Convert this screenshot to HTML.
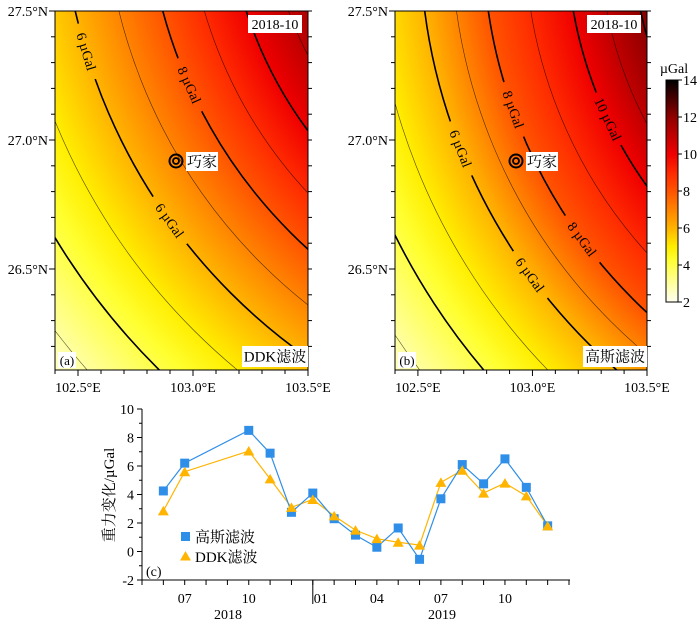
<!DOCTYPE html>
<html><head><meta charset="utf-8">
<style>
html,body{margin:0;background:#fff;overflow:hidden;width:700px;height:624px;}
#wrap{position:relative;width:700px;height:624px;overflow:hidden;font-family:"Liberation Serif","Noto Serif CJK SC",serif;}
canvas{position:absolute;}
svg{position:absolute;left:0;top:0;overflow:hidden;}
</style></head>
<body>
<div id="wrap">
<canvas id="cva" width="253" height="359" style="left:55px;top:11px"></canvas>
<canvas id="cvb" width="252" height="359" style="left:395px;top:11px"></canvas>
<canvas id="cbar" width="12" height="222" style="left:666px;top:80px"></canvas>
<svg id="svg" width="700" height="624" xmlns="http://www.w3.org/2000/svg"></svg>
</div>
<script>
// ---- map data ----
const cmapValues = [2, 3, 4.3, 5, 6, 7, 8, 9, 10, 12, 14];
const cmapColors = ["#fffff2","#ffffa0","#ffff30","#ffee00","#ffb400","#ff8400","#ff5400","#ff2a00","#f00000","#900000","#000000"];
const mapARadii  = [300, 375, 415, 495, 580, 685, 790];
const mapAValues = [12.6, 11, 10, 8, 6, 4, 2];
const mapBRadii  = [300, 362, 428, 512, 575, 670, 770];
const mapBValues = [13.8, 12, 10, 8, 6, 4, 2];
const contourLevels = [2,3,4,5,6,7,8,9,10,11,12,13,14];
const mapALabels = [[6,163.1],[6,144.4],[8,155.9]];
const mapBLabels = [[8,160.3],[10,154.8],[6,158.4],[8,143.8],[6,144.0]];
const lonTicks = [102.5, 103.0, 103.5];
const latTicks = [26.5, 27.0, 27.5];
const cbarTicks = [2,4,6,8,10,12,14];
// ---- chart data ----
const months = ["2018-06","2018-07","2018-10","2018-11","2018-12","2019-01","2019-02","2019-03","2019-04","2019-05","2019-06","2019-07","2019-08","2019-09","2019-10","2019-11","2019-12"];
const gaussValues = [4.25,6.2,8.5,6.9,2.75,4.1,2.3,1.15,0.3,1.65,-0.55,3.7,6.1,4.75,6.5,4.5,1.8];
const ddkValues = [2.85,5.6,7.05,5.1,3.1,3.65,2.5,1.5,0.9,0.65,0.45,4.85,5.7,4.1,4.8,3.9,1.8];
const yTicks = [-2,0,2,4,6,8,10];
const monthTickLabels = [["07","2018-07"],["10","2018-10"],["01","2019-01"],["04","2019-04"],["07","2019-07"],["10","2019-10"]];

const NS="http://www.w3.org/2000/svg";
const svg=document.getElementById('svg');
function mk(tag,attrs,parent){const e=document.createElementNS(NS,tag);for(const k in attrs)e.setAttribute(k,attrs[k]);(parent||svg).appendChild(e);return e;}
function interp(x,xs,ys){
  const n=xs.length;const inc=xs[n-1]>xs[0];
  for(let i=0;i<n-1;i++){const a=xs[i],b=xs[i+1];
    if((inc&&x>=a&&x<=b)||(!inc&&x<=a&&x>=b)){return ys[i]+(ys[i+1]-ys[i])*(x-a)/(b-a);}}
  if((inc&&x<xs[0])||(!inc&&x>xs[0])){return ys[0]+(ys[1]-ys[0])*(x-xs[0])/(xs[1]-xs[0]);}
  return ys[n-2]+(ys[n-1]-ys[n-2])*(x-xs[n-2])/(xs[n-1]-xs[n-2]);
}
function hex(c){return [parseInt(c.substr(1,2),16),parseInt(c.substr(3,2),16),parseInt(c.substr(5,2),16)];}
const cmapRGB=cmapColors.map(hex);
function colorFor(v){v=Math.max(2,Math.min(14,v));
  for(let i=0;i<cmapValues.length-1;i++){if(v<=cmapValues[i+1]){const t=(v-cmapValues[i])/(cmapValues[i+1]-cmapValues[i]);
    const a=cmapRGB[i],b=cmapRGB[i+1];return [a[0]+(b[0]-a[0])*t,a[1]+(b[1]-a[1])*t,a[2]+(b[2]-a[2])*t];}}
  return cmapRGB[cmapRGB.length-1];}

function drawField(id,w,h,cx,cy,radii,vals){
  const ctx=document.getElementById(id).getContext('2d');const img=ctx.createImageData(w,h);
  for(let y=0;y<h;y++)for(let x=0;x<w;x++){const r=Math.hypot(x+0.5-cx,y+0.5-cy);const c=colorFor(interp(r,radii,vals));
    const k=(y*w+x)*4;img.data[k]=c[0];img.data[k+1]=c[1];img.data[k+2]=c[2];img.data[k+3]=255;}
  ctx.putImageData(img,0,0);}

(function(){const ctx=document.getElementById('cbar').getContext('2d');
  for(let y=0;y<222;y++){const v=14-12*(y+0.5)/222;const c=colorFor(v);ctx.fillStyle=`rgb(${c[0]|0},${c[1]|0},${c[2]|0})`;ctx.fillRect(0,y,12,1);}})();

function drawMap(key,x0,y0,w,h,cx,cy,radii,vals,labels,title,filt,tag){
  drawField('cv'+key,w,h,cx,cy,radii,vals);
  const g=mk('g',{});
  
  
  const defs=mk('defs',{},g);
  const cp=mk('clipPath',{id:'clip'+key},defs);mk('rect',{x:x0,y:y0,width:w,height:h},cp);
  const mask=mk('mask',{id:'mask'+key,maskUnits:'userSpaceOnUse',x:0,y:0,width:700,height:624},defs);
  mk('rect',{x:0,y:0,width:700,height:624,fill:'#fff'},mask);
  const CX=x0+cx,CY=y0+cy;
  const lg=mk('g',{'clip-path':`url(#clip${key})`},g);
  labels.forEach(([lev,ang])=>{const R=interp(lev,vals,radii);const th=ang*Math.PI/180;
    const px=CX+R*Math.cos(th),py=CY+R*Math.sin(th),rot=ang-90;
    mk('rect',{x:px-29,y:py-8,width:58,height:16,fill:'#000',transform:`rotate(${rot} ${px} ${py})`},mask);
    const t=mk('text',{x:px,y:py+4.5,'text-anchor':'middle','font-size':14,fill:'#000',transform:`rotate(${rot} ${px} ${py})`},lg);
    t.textContent=lev+' µGal';
    
    
  });
  const cg=mk('g',{'clip-path':`url(#clip${key})`,mask:`url(#mask${key})`},g);
  
  
  contourLevels.forEach(lev=>{if(lev>Math.max(...vals)||lev<Math.min(...vals))return;const R=interp(lev,vals,radii);
    const c=mk('circle',{cx:CX,cy:CY,r:R,fill:'none',stroke:'#000','stroke-width':lev%2===0?1.6:0.6,'stroke-opacity':lev%2===0?1:0.7},cg);
    
    });
  g.appendChild(lg);
  mk('rect',{x:x0,y:y0,width:w,height:h,fill:'none',stroke:'#000','stroke-width':1},g);
  const lonX=l=>x0+(l-102.4)*w/1.1, latY=la=>y0+(27.5-la)*258;
  for(let i=0;i<=11;i++){const l=102.4+i*0.1;const x=lonX(l);const maj=lonTicks.some(t=>Math.abs(t-l)<1e-6);
    mk('line',{x1:x,y1:y0+h,x2:x,y2:y0+h+(maj?6:4),stroke:'#000'},g);}
  for(let i=0;i<=14;i++){const la=27.5-i*0.1;const y=latY(la);if(y>y0+h+0.5)break;const maj=latTicks.some(t=>Math.abs(t-la)<1e-6);
    mk('line',{x1:x0,y1:y,x2:x0-(maj?6:4),y2:y,stroke:'#000'},g);mk('line',{x1:x0+w,y1:y,x2:x0+w+4,y2:y,stroke:'#000'},g);}
  lonTicks.forEach(l=>{const t=mk('text',{x:lonX(l),y:y0+h+22,'text-anchor':'middle','font-size':14},g);t.textContent=l.toFixed(1)+'°E';
    });
  latTicks.forEach(la=>{const t=mk('text',{x:x0-7,y:latY(la)+5,'text-anchor':'end','font-size':14},g);t.textContent=la.toFixed(1)+'°N';
    });
  function box(x,y,bw,bh,txt,name,fs){const bg=mk('g',{},g);
    mk('rect',{x:x,y:y,width:bw,height:bh,fill:'#fff'},bg);const t=mk('text',{x:x+bw/2,y:y+bh/2+5,'text-anchor':'middle','font-size':fs||14},bg);t.textContent=txt;}
  box(x0+w-60,y0+4,54,18,title,'date-label');
  box(x0+w-(filt.length>4?66:64),y0+h-24,filt.length>4?66:64,21,filt,'filter-label',15);
  box(x0+3,y0+h-18,18,16,tag,'panel-label',13);
  const sx=x0+121,sy=y0+150;
  const st=mk('g',{},g);
  mk('circle',{cx:sx,cy:sy,r:6.5,fill:'none',stroke:'#000','stroke-width':2},st);
  mk('circle',{cx:sx,cy:sy,r:3,fill:'none',stroke:'#000','stroke-width':1.8},st);
  box(sx+10,sy-9,32,19,'巧家','station-label',15);
}
drawMap('a',55,11,253,359,586,-128,mapARadii,mapAValues,mapALabels,'2018-10','DDK滤波','(a)');
drawMap('b',395,11,252,359,600,-74,mapBRadii,mapBValues,mapBLabels,'2018-10','高斯滤波','(b)');

(function(){const g=mk('g',{});
  mk('rect',{x:666,y:80,width:12,height:222,fill:'none',stroke:'#000'},g);
  cbarTicks.forEach(v=>{const y=302-(v-2)*222/12;mk('line',{x1:678,y1:y,x2:682,y2:y,stroke:'#000'},g);
    const t=mk('text',{x:683,y:y+5,'font-size':14},g);t.textContent=v;});
  const t=mk('text',{x:674,y:73,'text-anchor':'middle','font-size':14},g);t.textContent='µGal';})();

(function(){
  const ox=142, m0=2018*12+4, pm=21.35;
  const xS=s=>{const [y,m]=s.split('-').map(Number);return ox+((y*12+m-1)-m0)*pm;};
  const yS=v=>580-(v+2)*14.25;
  const g=mk('g',{});
  mk('line',{x1:ox,y1:409,x2:ox,y2:580,stroke:'#000'},g);
  mk('line',{x1:ox,y1:580,x2:570,y2:580,stroke:'#000'},g);
  for(let v=-2;v<=10;v++){mk('line',{x1:ox,y1:yS(v),x2:ox-(v%2===0?5:3),y2:yS(v),stroke:'#000'},g);}
  yTicks.forEach(v=>{const t=mk('text',{x:ox-8,y:yS(v)+5,'text-anchor':'end','font-size':14},g);t.textContent=v;});
  for(let i=0;i<=20;i++){const x=ox+i*pm;mk('line',{x1:x,y1:580,x2:x,y2:585,stroke:'#000'},g);}
  mk('line',{x1:xS('2019-01'),y1:580,x2:xS('2019-01'),y2:604,stroke:'#000'},g);
  monthTickLabels.forEach(([lab,d])=>{const x=xS(d)+(lab==='01'?8:0);const t=mk('text',{x:x,y:603,'text-anchor':'middle','font-size':14},g);t.textContent=lab;});
  [['2018',228],['2019',442]].forEach(([s,x])=>{const t=mk('text',{x:x,y:619,'text-anchor':'middle','font-size':14},g);t.textContent=s;});
  const yl=mk('text',{x:0,y:0,'text-anchor':'middle','font-size':15,transform:'translate(114,495) rotate(-90)'},g);yl.textContent='重力变化/µGal';
  
  const pc=mk('text',{x:146,y:576,'font-size':14},g);pc.textContent='(c)';
  const dP=ddkValues.map((v,i)=>xS(months[i])+','+yS(v)).join(' ');
  const gP=gaussValues.map((v,i)=>xS(months[i])+','+yS(v)).join(' ');
  const l1=mk('polyline',{points:dP,fill:'none',stroke:'#ffb400','stroke-width':1.2},g);
  
  const l2=mk('polyline',{points:gP,fill:'none',stroke:'#2f8ee8','stroke-width':1.2},g);
  
  gaussValues.forEach((v,i)=>{const x=xS(months[i]),y=yS(v);const r=mk('rect',{x:x-4.5,y:y-4.5,width:9,height:9,fill:'#2f8ee8'},g);
    });
  ddkValues.forEach((v,i)=>{const x=xS(months[i]),y=yS(v);const p=mk('polygon',{points:`${x},${y-5} ${x-5.5},${y+4.5} ${x+5.5},${y+4.5}`,fill:'#ffb400'},g);
    });
  const lg=mk('g',{},g);
  mk('rect',{x:181,y:532,width:9,height:9,fill:'#2f8ee8'},lg);
  let t=mk('text',{x:195,y:542,'font-size':15},lg);t.textContent='高斯滤波';
  mk('polygon',{points:'185.5,551 180,560.5 191,560.5',fill:'#ffb400'},lg);
  t=mk('text',{x:195,y:562,'font-size':15},lg);t.textContent='DDK滤波';
})();
</script>
</body></html>
